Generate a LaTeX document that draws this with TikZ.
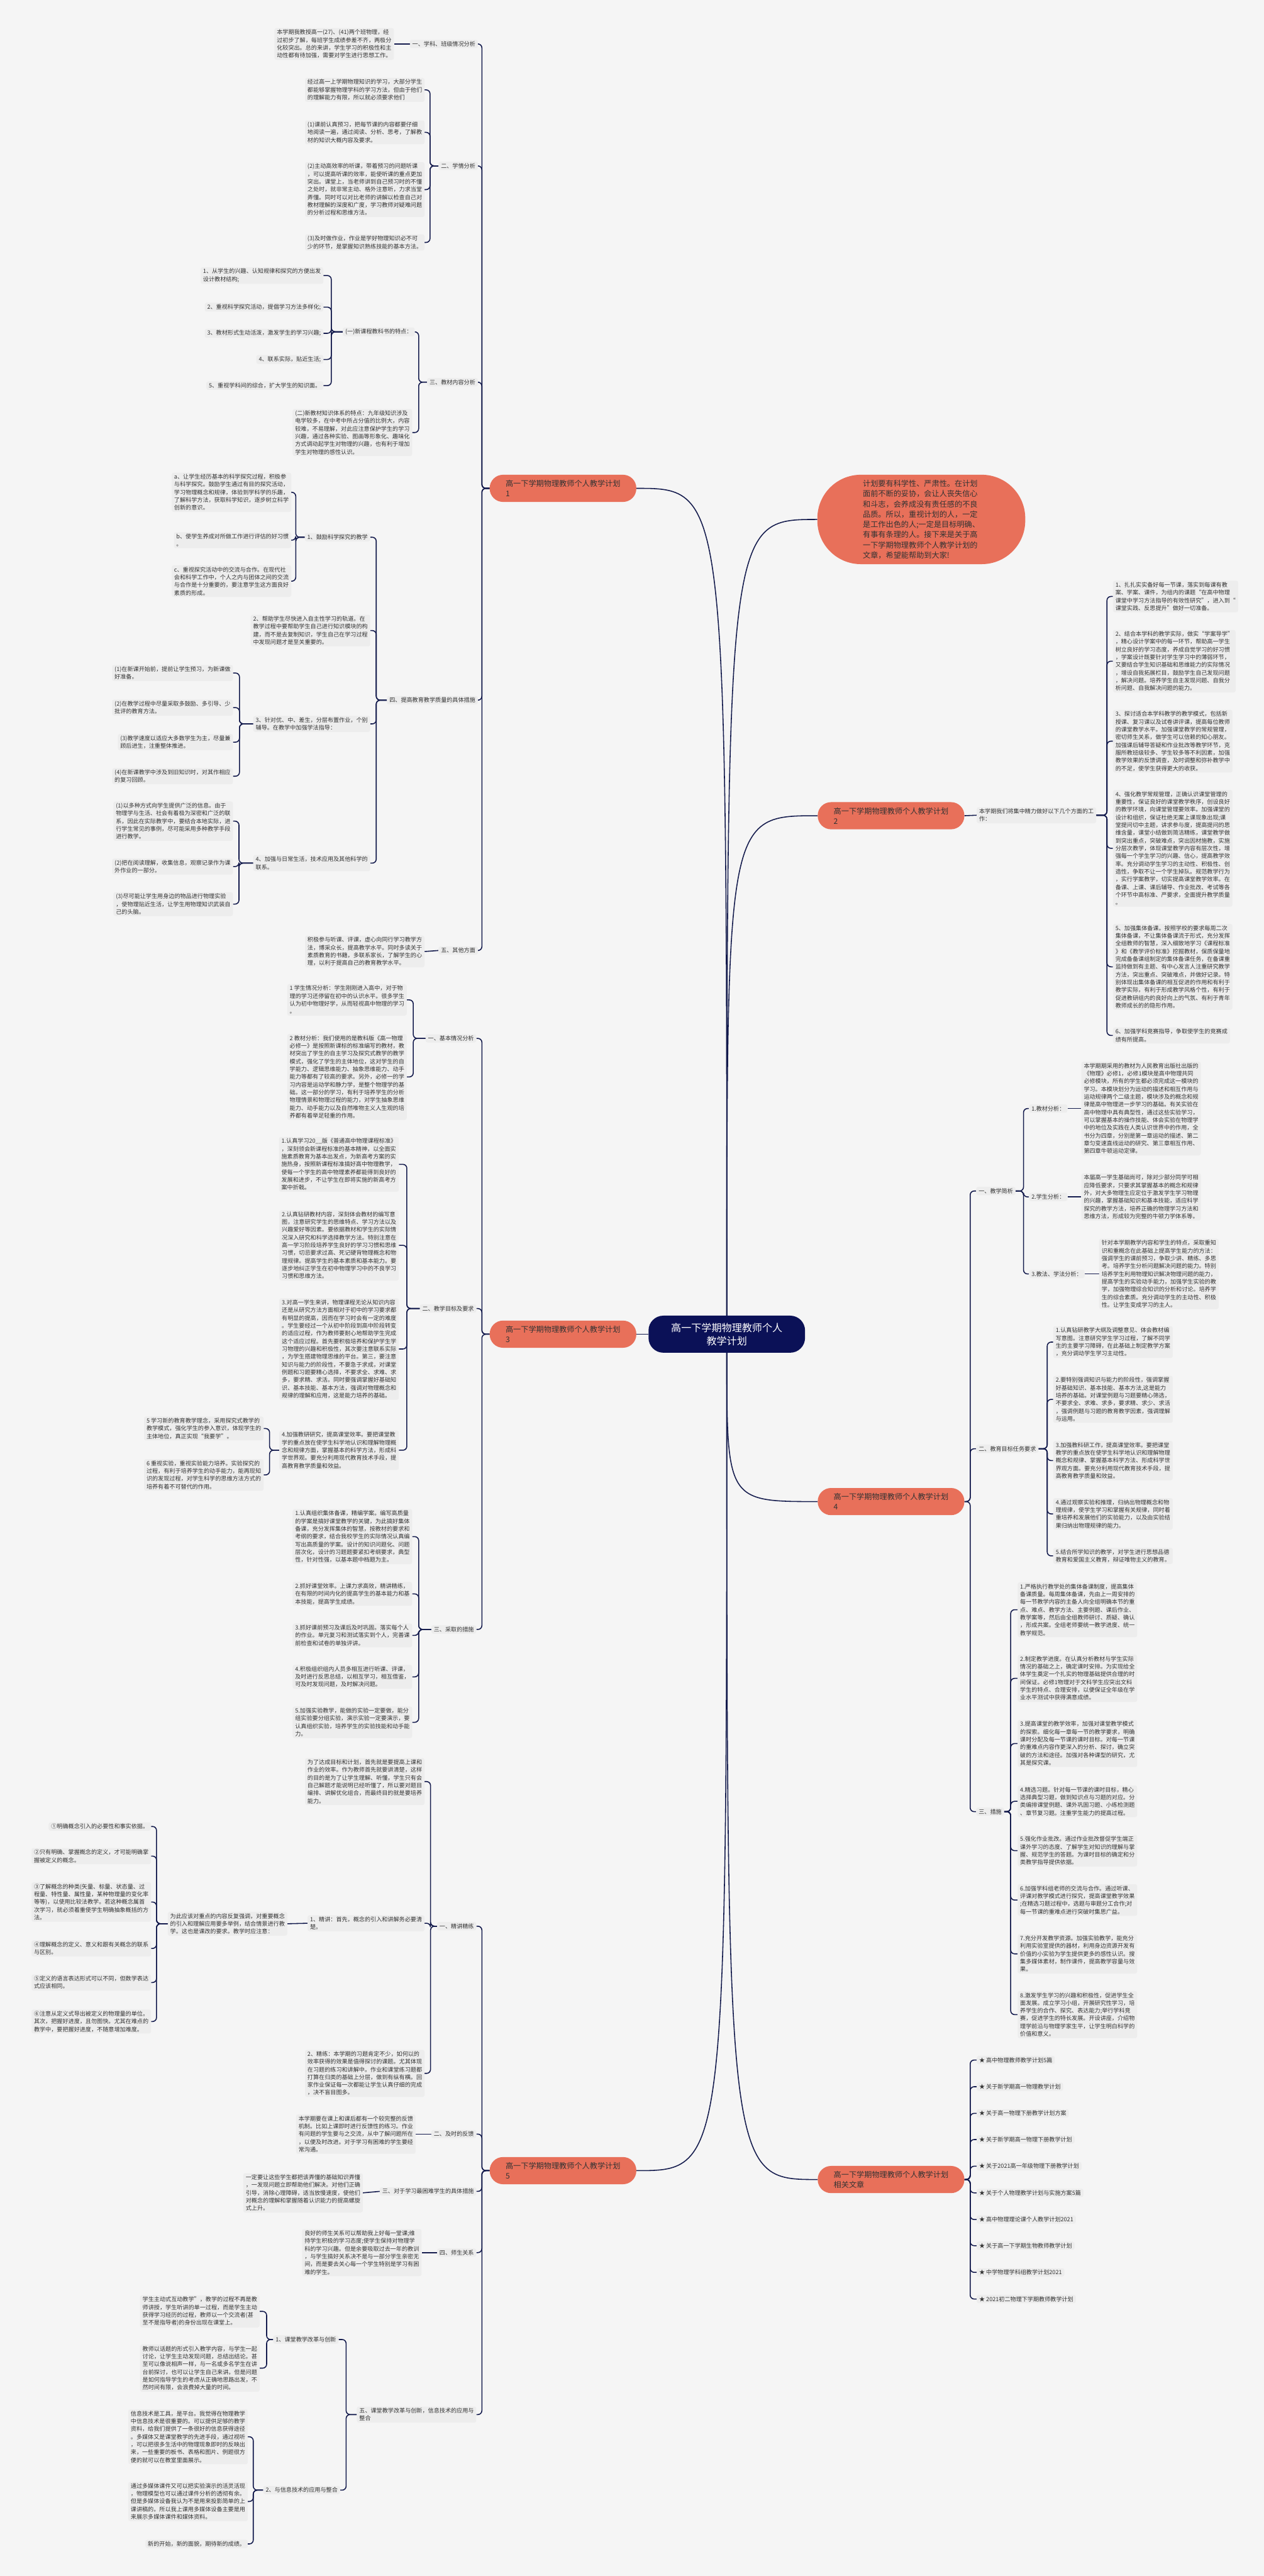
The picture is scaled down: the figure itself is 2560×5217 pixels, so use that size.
\documentclass[tikz,border=0pt]{standalone}
\usepackage{fontspec}
\setmainfont{Noto Sans CJK SC}
\usetikzlibrary{backgrounds}
\definecolor{bgc}{HTML}{F5F5F5}
\definecolor{leafbg}{HTML}{EDEDED}
\definecolor{txt}{HTML}{333333}
\definecolor{navy}{HTML}{0B1157}
\definecolor{lnk}{HTML}{141B4D}
\definecolor{coral}{HTML}{E8705A}
\newcommand\lf{\fontsize{11.6}{15.7}\selectfont}
\newcommand\brf{\fontsize{15.5}{20.5}\selectfont}
\tikzset{
 leaf/.style={fill=leafbg, rounded corners=4pt, inner xsep=5pt, inner ysep=3pt, align=left, font=\lf, text=txt},
 lleaf/.style={leaf, anchor=east},
 rleaf/.style={leaf, anchor=west},
 branch/.style={fill=coral, rounded corners=27pt, minimum width=297pt, minimum height=55pt, align=left, font=\brf, text=txt, inner xsep=14pt},
 conn/.style={draw=lnk, line width=2pt, rounded corners=8pt},
 curv/.style={draw=lnk, line width=2pt},
}
\newcommand\Lc[4]{\draw[conn] (#1.west) -- (#3,#4) |- (#2.east);}
\newcommand\Rc[4]{\draw[conn] (#1.east) -- (#3,#4) |- (#2.west);}
\newcommand\Sl[2]{\draw[conn] (#1.west) -- (#2.east);}
\newcommand\Sr[2]{\draw[conn] (#1.east) -- (#2.west);}
\begin{document}
\begin{tikzpicture}[x=1pt,y=-1pt]
\useasboundingbox (0,0) rectangle (2560,5217);
% ---------- root
\node[fill=navy, text=white, rounded corners=30pt, minimum width=317pt, minimum height=75pt, align=center, font=\fontsize{20.5}{27}\selectfont] (root) at (1472,2702) {高一下学期物理教师个人\\教学计划};
% ---------- right side
\node[fill=coral, rounded corners=88pt, minimum width=421pt, minimum height=181pt, align=left, font=\fontsize{15.5}{20.7}\selectfont, text=txt] (intro) at (1866,1052) {计划要有科学性、严肃性。在计划\\面前不断的妥协，会让人丧失信心\\和斗志，会养成没有责任感的不良\\品质。所以，重视计划的人，一定\\是工作出色的人;一定是目标明确、\\有事有条理的人。接下来是关于高\\一下学期物理教师个人教学计划的\\文章，希望能帮助到大家!};

\node[branch, anchor=west] (R2) at (1656,1652) {高一下学期物理教师个人教学计划\\2};
\node[rleaf] (r2a) at (1978,1651) {本学期我们将集中精力做好以下几个方面的工\\作：};
\node[rleaf] (r2a1) at (2254,1208) {1、扎扎实实备好每一节课，落实到每课有教\\案、学案、课件，为组内的课题“在高中物理\\课堂中学习方法指导的有效性研究”，进入到“\\课堂实践、反思提升”做好一切准备。};
\node[rleaf] (r2a2) at (2254,1339) {2、结合本学科的教学实际，做实“学案导学”\\，精心设计学案中的每一环节，帮助高一学生\\树立良好的学习态度，养成自觉学习的好习惯\\，学案设计既要针对学生学习中的薄弱环节，\\又要结合学生知识基础和思维能力的实际情况\\，增设自我拓展栏目，鼓励学生自己发现问题\\，解决问题。培养学生自主发现问题、自我分\\析问题、自我解决问题的能力。};
\node[rleaf] (r2a3) at (2254,1501) {3、探讨适合本学科教学的教学模式，包括新\\授课、复习课以及试卷讲评课，提高每位教师\\的课堂教学水平。加强课堂教学的常规管理，\\密切师生关系，做学生可以信赖的知心朋友。\\加强课后辅导答疑和作业批改等教学环节，克\\服所教班级较多、学生较多等不利因素，加强\\教学效果的反馈调查，及时调整和弥补教学中\\的不足，使学生获得更大的收获。};
\node[rleaf] (r2a4) at (2254,1718) {4、强化教学常规管理，正确认识课堂管理的\\重要性，保证良好的课堂教学秩序，创设良好\\的教学环境，向课堂管理要效率。加强课堂的\\设计和组织，保证杜绝无案上课现象出现;课\\堂提问切中主题，讲求参与度，提高提问的思\\维含量，课堂小结做到简洁精练，课堂教学做\\到突出重点，突破难点，突出因材施教，实施\\分层次教学，体现课堂教学内容有层次性，增\\强每一个学生学习的兴趣、信心，提高教学效\\率。充分调动学生学习的主动性、积极性、创\\造性，争取不让一个学生掉队。规范教学行为\\，实行学案教学，切实提高课堂教学效率。在\\备课、上课、课后辅导、作业批改、考试等各\\个环节中高标准、严要求，全面提升教学质量\\。};
\node[rleaf] (r2a5) at (2254,1958) {5、加强集体备课。按照学校的要求每周二次\\集体备课，不让集体备课流于形式，充分发挥\\全组教师的智慧，深入细致地学习《课程标准\\》和《教学评价标准》挖掘教材，保质保量地\\完成备备课组制定的集体备课任务，在备课重\\监持做到有主题、有中心发言人注重研究教学\\方法，突出重点、突破难点，并做好记录。特\\别体现出集体备课的相互促进的作用和有利于\\教学实际，有利于形成教学风格个性，有利于\\促进教研组内的良好向上的气氛、有利于青年\\教师成长的的隐形作用。};
\node[rleaf] (r2a6) at (2254,2097) {6、加强学科竞赛指导，争取使学生的竞赛成\\绩有所提高。};

\node[branch, anchor=west] (R3) at (1656,3041) {高一下学期物理教师个人教学计划\\4};
\node[rleaf] (r3a) at (1977,2412) {一、教学简析};
\node[rleaf] (r3a1) at (2084,2245) {1.教材分析：};
\node[rleaf] (r3a1x) at (2190,2245) {本学期期采用的教材为人民教育出版社出版的\\《物理》必修1，必修1模块是高中物理共同\\必修模块，所有的学生都必须完成这一模块的\\学习。本模块划分为运动的描述和相互作用与\\运动规律两个二级主题，模块涉及的概念和规\\律是高中物理进一步学习的基础。有关实验在\\高中物理中具有典型性，通过这些实验学习，\\可以掌握基本的操作技能、体会实验在物理学\\中的地位及实践在人类认识世界中的作用，全\\书分为四章，分别是第一章运动的描述、第二\\章匀变速直线运动的研究、第三章相互作用、\\第四章牛顿运动定律。};
\node[rleaf] (r3a2) at (2084,2424) {2.学生分析：};
\node[rleaf] (r3a2x) at (2190,2424) {本届高一学生基础尚可，除对少部分同学可相\\应降低要求，只要求其掌握基本的概念和规律\\外，对大多物理生应定位于激发学生学习物理\\的兴趣，掌握基础知识和基本技能，适应科学\\探究的教学方法，培养正确的物理学习方法和\\思维方法，形成较为完整的牛顿力学体系等。};
\node[rleaf] (r3a3) at (2084,2580) {3.教法、学法分析：};
\node[rleaf] (r3a3x) at (2226,2580) {针对本学期教学内容和学生的特点，采取重知\\识和重概念在此基础上提高学生能力的方法：\\强调学生的课前预习，争取少讲、精练、多思\\考。培养学生分析问题解决问题的能力。特别\\培养学生利用物理知识解决物理问题的能力，\\提高学生的实验动手能力，加强学生实验的教\\学，加强物理综合知识的分析和讨论。培养学\\生的综合素质。充分调动学生的主动性、积极\\性。让学生变成学习的主人。};
\node[rleaf] (r3b) at (1977,2934) {二、教育目标任务要求};
\node[rleaf] (r3b1) at (2133,2718) {1.认真钻研教学大纲及调整意见、体会教材编\\写意图。注意研究学生学习过程，了解不同学\\生的主要学习障碍，在此基础上制定教学方案\\，充分调动学生学习主动性。};
\node[rleaf] (r3b2) at (2133,2834) {2.要特别强调知识与能力的阶段性，强调掌握\\好基础知识、基本技能、基本方法,这是能力\\培养的基础。对课堂例题与习题要精心筛选，\\不要求全、求难、求多，要求精、求少、求活\\，强调例题与习题的教育教学因素，强调理解\\与运用。};
\node[rleaf] (r3b3) at (2133,2958) {3.加强教科研工作，提高课堂效率。要把课堂\\教学的重点放在使学生科学地认识和理解物理\\概念和规律、掌握基本科学方法、形成科学世\\界观方面。要充分利用现代教育技术手段，提\\高教育教学质量和效益。};
\node[rleaf] (r3b4) at (2133,3066) {4.通过观察实验和推理，归纳出物理概念和物\\理规律，使学生学习和掌握有关规律，同时着\\重培养和发展他们的实验能力，以及由实验结\\果归纳出物理规律的能力。};
\node[rleaf] (r3b5) at (2133,3151) {5.结合所学知识的教学，对学生进行思想品德\\教育和爱国主义教育，辩证唯物主义的教育。};
\node[rleaf] (r3c) at (1977,3669) {三、措施};
\node[rleaf] (r3c1) at (2061,3260) {1.严格执行教学处的集体备课制度，提高集体\\备课质量。每周集体备课，先由上一周安排的\\每一节教学内容的主备人向全组明确本节的重\\点、难点、教学方法、主要例题、课后作业、\\教学案等，然后由全组教师研讨、质疑、确认\\，形成共案。全组老师要统一教学进度、统一\\教学规范。};
\node[rleaf] (r3c2) at (2061,3399) {2.制定教学进度。在认真分析教材与学生实际\\情况的基础之上，确定课时安排。为实现给全\\体学生奠定一个扎实的物理基础提供合理的时\\间保证。必修1物理对于文科学生应突出文科\\学生的特点、合理安排，以便保证全年级在学\\业水平测试中获得满意成绩。};
\node[rleaf] (r3c3) at (2061,3531) {3.提高课堂的教学效率，加强对课堂教学模式\\的探索。细化每一章每一节的教学要求，明确\\课时分配及每一节课的课时目标。对每一节课\\的重难点内容作更深入的分析、探讨，确立突\\破的方法和途径。加强对各种课型的研究，尤\\其是探究课。};
\node[rleaf] (r3c4) at (2061,3648) {4.精选习题。针对每一节课的课时目标，精心\\选择典型习题，做到知识点与习题的对应。分\\类编排课堂例题、课外巩固习题、小练检测题\\、章节复习题。注重学生能力的提高过程。};
\node[rleaf] (r3c5) at (2061,3748) {5.强化作业批改。通过作业批改督促学生端正\\课外学习的态度、了解学生对知识的理解与掌\\握、规范学生的答题。为课时目标的确定和分\\类教学指导提供依据。};
\node[rleaf] (r3c6) at (2061,3848) {6.加强学科组老师的交流与合作。通过听课、\\评课对教学模式进行探究，提高课堂教学效果\\;在精选习题过程中，选题与审题分工合作;对\\每一节课的重难点进行突破时集思广益。};
\node[rleaf] (r3c7) at (2061,3957) {7.充分开发教学资源。加强实验教学，能充分\\利用实验室提供的器材，利用身边资源开发有\\价值的小实验为学生提供更多的感性认识。搜\\集多媒体素材，制作课件，提高教学容量与效\\果。};
\node[rleaf] (r3c8) at (2061,4080) {8.激发学生学习的兴趣和积极性，促进学生全\\面发展。成立学习小组，开展研究性学习，培\\养学生的合作、探究、表达能力;举行学科竞\\赛，促进学生的特长发展。开设讲座，介绍物\\理学前沿与物理学家生平，让学生明白科学的\\价值和意义。};

\node[branch, anchor=west] (R4) at (1656,4414) {高一下学期物理教师个人教学计划\\相关文章};
\node[rleaf] (k1) at (1978,4172) {★ 高中物理教师教学计划5篇};
\node[rleaf] (k2) at (1978,4226) {★ 关于新学期高一物理教学计划};
\node[rleaf] (k3) at (1978,4280) {★ 关于高一物理下册教学计划方案};
\node[rleaf] (k4) at (1978,4333) {★ 关于新学期高一物理下册教学计划};
\node[rleaf] (k5) at (1978,4387) {★ 关于2021高一年级物理下册教学计划};
\node[rleaf] (k6) at (1978,4441) {★ 关于个人物理教学计划与实施方案5篇};
\node[rleaf] (k7) at (1978,4495) {★ 高中物理理论课个人教学计划2021};
\node[rleaf] (k8) at (1978,4548) {★ 关于高一下学期生物教师教学计划};
\node[rleaf] (k9) at (1978,4602) {★ 中学物理学科组教学计划2021};
\node[rleaf] (k10) at (1978,4656) {★ 2021初二物理下学期教师教学计划};

% ---------- left A
\node[branch, anchor=east] (A) at (1289,989) {高一下学期物理教师个人教学计划\\1};
\node[lleaf] (a1) at (968,89) {一、学科、班级情况分析};
\node[lleaf] (a1x) at (798,89) {本学期我教授高一(27)、(41)两个班物理，经\\过初步了解，每班学生成绩参差不齐，两极分\\化较突出。总的来讲，学生学习的积极性和主\\动性都有待加强，需要对学生进行思想工作。};
\node[lleaf] (a2) at (968,336) {二、学情分析};
\node[lleaf] (a2x1) at (860,182) {经过高一上学期物理知识的学习，大部分学生\\都能够掌握物理学科的学习方法，但由于他们\\的理解能力有限，所以就必须要求他们};
\node[lleaf] (a2x2) at (860,268) {(1)课前认真预习，把每节课的内容都要仔细\\地阅读一遍，通过阅读、分析、思考，了解教\\材的知识大概内容及要求。};
\node[lleaf] (a2x3) at (860,384) {(2)主动高效率的听课，带着预习的问题听课\\，可以提高听课的效率，能使听课的重点更加\\突出。课堂上，当老师讲到自己预习时的不懂\\之处时，就非常主动、格外注意听，力求当堂\\弄懂。同时可以对比老师的讲解以检查自己对\\教材理解的深度和广度，学习教师对疑难问题\\的分析过程和思维方法。};
\node[lleaf] (a2x4) at (860,491) {(3)及时做作业，作业是学好物理知识必不可\\少的环节，是掌握知识熟练技能的基本方法。};
\node[lleaf] (a3) at (968,774) {三、教材内容分析};
\node[lleaf] (a3a) at (840,672) {(一)新课程教科书的特点：};
\node[lleaf] (a3a1) at (655,558) {1、从学生的兴趣、认知规律和探究的方便出发\\设计教材结构;};
\node[lleaf] (a3a2) at (655,622) {2、重视科学探究活动，提倡学习方法多样化;};
\node[lleaf] (a3a3) at (655,675) {3、教材形式生动活泼，激发学生的学习兴趣;};
\node[lleaf] (a3a4) at (655,728) {4、联系实际，贴近生活;};
\node[lleaf] (a3a5) at (655,781) {5、重视学科间的综合，扩大学生的知识面。};
\node[lleaf] (a3b) at (835,876) {(二)新教材知识体系的特点：九年级知识涉及\\电学较多，在中考中所占分值的比例大，内容\\较难，不易理解，对此应注意保护学生的学习\\兴趣，通过各种实验、图画等形象化、趣味化\\方式调动起学生对物理的兴趣，也有利于增加\\学生对物理的感性认识。};
\node[lleaf] (a4) at (968,1418) {四、提高教育教学质量的具体措施};
\node[lleaf] (a4a) at (750,1088) {1、鼓励科学探究的教学};
\node[lleaf] (a4a1) at (590,997) {a、让学生经历基本的科学探究过程，积极参\\与科学探究。鼓励学生通过有目的探究活动，\\学习物理概念和规律，体验到学科学的乐趣，\\了解科学方法，获取科学知识，逐步树立科学\\创新的意识。};
\node[lleaf] (a4a2) at (590,1094) {b、使学生养成对所做工作进行评估的好习惯\\。};
\node[lleaf] (a4a3) at (590,1177) {c、重视探究活动中的交流与合作。在现代社\\会和科学工作中，个人之内与团体之间的交流\\与合作是十分重要的，要注意学生这方面良好\\素质的形成。};
\node[lleaf] (a4b) at (750,1277) {2、帮助学生尽快进入自主性学习的轨道。在\\教学过程中要帮助学生自己进行知识模块的构\\建，而不是去复制知识，学生自己在学习过程\\中发现问题才是至关重要的。};
\node[lleaf] (a4c) at (750,1466) {3、针对优、中、差生，分层布置作业，个别\\辅导。在教学中加强学法指导：};
\node[lleaf] (a4c1) at (472,1363) {(1)在新课开始前，提前让学生预习，为新课做\\好准备。};
\node[lleaf] (a4c2) at (472,1433) {(2)在教学过程中尽量采取多鼓励、多引导、少\\批评的教育方法。};
\node[lleaf] (a4c3) at (472,1503) {(3)教学速度以适应大多数学生为主，尽量兼\\顾后进生，注重整体推进。};
\node[lleaf] (a4c4) at (472,1572) {(4)在新课教学中涉及到旧知识时，对其作相应\\的复习回顾。};
\node[lleaf] (a4d) at (750,1748) {4、加强与日常生活，技术应用及其他科学的\\联系。};
\node[lleaf] (a4d1) at (472,1663) {(1)以多种方式向学生提供广泛的信息。由于\\物理学与生活、社会有着极为深密和广泛的联\\系，因此在实际教学中，要结合本地实际，进\\行学生常见的事例，尽可能采用多种教学手段\\进行教学。};
\node[lleaf] (a4d2) at (472,1755) {(2)把在阅读理解，收集信息，观察记录作为课\\外作业的一部分。};
\node[lleaf] (a4d3) at (472,1831) {(3)尽可能让学生用身边的物品进行物理实验\\，使物理贴近生活，让学生用物理知识武装自\\己的头脑。};
\node[lleaf] (a5) at (968,1925) {五、其他方面};
\node[lleaf] (a5x) at (860,1927) {积极参与听课、评课，虚心向同行学习教学方\\法，博采众长，提高教学水平。同时多读关于\\素质教育的书籍，多联系家长，了解学生的心\\理，以利于提高自己的教育教学水平。};

% ---------- left B
\node[branch, anchor=east] (B) at (1289,2702) {高一下学期物理教师个人教学计划\\3};
\node[lleaf] (b1) at (965,2103) {一、基本情况分析};
\node[lleaf] (b1x1) at (824,2025) {1 学生情况分析：学生刚刚进入高中，对于物\\理的学习还停留在初中的认识水平。很多学生\\认为初中物理好学，从而轻视高中物理的学习\\。};
\node[lleaf] (b1x2) at (824,2181) {2 教材分析：我们使用的是教科版《高一物理\\必修一》是按照新课标的标准编写的教材，教\\材突出了学生的自主学习及探究式教学的教学\\模式，强化了学生的主体地位，这对学生的自\\学能力、逻辑思维能力、抽象思维能力、动手\\能力等都有了较高的要求。另外，必修一的学\\习内容是运动学和静力学，是整个物理学的基\\础。这一部分的学习，有利于培养学生的分析\\物理情景和物理过程的能力，对学生抽象思维\\能力、动手能力以及自然唯物主义人生观的培\\养都有着举足轻重的作用。};
\node[lleaf] (b2) at (965,2650) {二、教学目标及要求};
\node[lleaf] (b2x1) at (808,2358) {1.认真学习20\_\_版《普通高中物理课程标准》\\，深刻领会新课程标准的基本精神，以全面实\\施素质教育为基本出发点，为新高考方案的实\\施热身，按照新课程标准搞好高中物理教学，\\使每一个学生的高中物理素养都能得到良好的\\发展和进步，不让学生在即将实施的新高考方\\案中折戟。};
\node[lleaf] (b2x2) at (808,2522) {2.认真钻研教材内容，深刻体会教材的编写意\\图，注意研究学生的思维特点、学习方法以及\\兴趣爱好等因素。要依据教材和学生的实际情\\况深入研究和科学选择教学方法。特别注意在\\高一学习阶段培养学生良好的学习习惯和思维\\习惯，切忌要求过高、死记硬背物理概念和物\\理规律。提高学生的基本素质和基本能力。要\\逐步地纠正学生在初中物理学习中的不良学习\\习惯和思维方法。};
\node[lleaf] (b2x3) at (808,2732) {3.对高一学生来讲，物理课程无论从知识内容\\还是从研究方法方面相对于初中的学习要求都\\有明显的提高，因而在学习时会有一定的难度\\。学生要经过一个从初中阶段到高中阶段转变\\的适应过程，作为教师要耐心地帮助学生完成\\这个适应过程。首先要积极培养和保护学生学\\习物理的兴趣和积极性，其次要注意联系实际\\，为学生搭建物理思维的平台。第三，要注意\\知识与能力的阶段性，不要急于求成，对课堂\\例题和习题要精心选择，不要求全、求难、求\\多，要求精、求活。同时要强调掌握好基础知\\识、基本技能、基本方法，强调对物理概念和\\规律的理解和应用，这是能力培养的基础。};
\node[lleaf] (b2x4) at (808,2937) {4.加强教研研究，提高课堂效率。要把课堂教\\学的重点放在使学生科学地认识和理解物理概\\念和规律方面，掌握基本的科学方法，形成科\\学世界观。要充分利用现代教育技术手段，提\\高教育教学质量和效益。};
\node[lleaf] (b2x5) at (534,2893) {5 学习新的教育教学理念，采用探究式教学的\\教学模式，强化学生的参入意识，体现学生的\\主体地位，真正实现“我要学”。};
\node[lleaf] (b2x6) at (534,2987) {6 重视实验，重视实验能力培养。实验探究的\\过程，有利于培养学生的动手能力，能再现知\\识的发现过程，对学生科学的思维方法方式的\\培养有着不可替代的作用。};
\node[lleaf] (b3) at (965,3300) {三、采取的措施};
\node[lleaf] (b3x1) at (835,3112) {1.认真组织集体备课，精编学案。编写高质量\\的学案是搞好课堂教学的关键，为此搞好集体\\备课，充分发挥集体的智慧，按教材的要求和\\考纲的要求，结合我校学生的实际情况认真编\\写出高质量的学案。设计的知识问题化、问题\\层次化，设计的习题题要紧扣考纲要求，典型\\性，针对性强，以基本题中档题为主。};
\node[lleaf] (b3x2) at (835,3228) {2.抓好课堂效率。上课力求高效，精讲精练，\\在有限的时间内化的提高学生的基本能力和基\\本技能，提高学生成绩。};
\node[lleaf] (b3x3) at (835,3312) {3.抓好课前预习及课后及时巩固。落实每个人\\的作业。单元复习和测试落实到个人，完善课\\前检查和试卷的单独评讲。};
\node[lleaf] (b3x4) at (835,3396) {4.积极组织组内人员多相互进行听课、评课，\\及时进行反思总结，以相互学习，相互借鉴，\\可及时发现问题，及时解决问题。};
\node[lleaf] (b3x5) at (835,3488) {5.加强实验教学，能做的实验一定要做，能分\\组实验要分组实验，演示实验一定要演示，要\\认真组织实验，培养学生的实验技能和动手能\\力。};

% ---------- left C
\node[branch, anchor=east] (C) at (1289,4396) {高一下学期物理教师个人教学计划\\5};
\node[lleaf] (c1) at (965,3901) {一、精讲精练};
\node[lleaf] (c1x1) at (860,3608) {为了达成目标和计划，首先就是要提高上课和\\作业的效率。作为教师首先就要讲清楚，这样\\的目的是为了让学生理解、听懂，学生只有会\\自己解题才能说明已经听懂了，所以要对题目\\编排、讲解优化组合，而最终目的就是要培养\\能力。};
\node[lleaf] (c1x2) at (860,3895) {1、精讲：首先，概念的引入和讲解务必要清\\楚。};
\node[lleaf] (c1x2a) at (582,3896) {为此应该对重点的内容反复强调，对重要概念\\的引入和理解应用要多举例，结合情景进行教\\学。这也是课改的要求。教学时应注意：};
\node[lleaf] (q1) at (306,3699) {①明确概念引入的必要性和事实依据。};
\node[lleaf] (q2) at (306,3759) {②只有明确、掌握概念的定义，才可能明确掌\\握被定义的概念。};
\node[lleaf] (q3) at (306,3852) {③了解概念的种类(矢量、标量、状态量、过\\程量、特性量、属性量，某种物理量的变化率\\等等)，以使用比较法教学。若这种概念属首\\次学习，就必须着重使学生明确抽象概括的方\\法。};
\node[lleaf] (q4) at (306,3946) {④理解概念的定义、意义和跟有关概念的联系\\与区别。};
\node[lleaf] (q5) at (306,4015) {⑤定义的语言表达形式可以不同，但数学表达\\式应该相同。};
\node[lleaf] (q6) at (306,4094) {⑥注意从定义式导出被定义的物理量的单位。\\其次，把握好进度，且勿图快。尤其在难点的\\教学中，要把握好进度，不随意增加难度。};
\node[lleaf] (c1x3) at (860,4199) {2、精练：本学期的习题肯定不少，如何以的\\效率获得的效果是值得探讨的课题。尤其体现\\在习题的练习和讲解中。作业和课堂练习题都\\打算在归类的基础上分层，做到有纵有横。回\\家作业保证每一次都能让学生认真仔细的完成\\，决不盲目图多。};
\node[lleaf] (c2) at (965,4322) {二、及时的反馈};
\node[lleaf] (c2x) at (842,4322) {本学期要在课上和课后都有一个较完整的反馈\\机制。比如上课即时进行反馈性的练习。作业\\有问题的学生要与之交流，从中了解问题所在\\，以便及时改进。对于学习有困难的学生要经\\常沟通。};
\node[lleaf] (c3) at (965,4438) {三、对于学习最困难学生的具体措施};
\node[lleaf] (c3x) at (735,4441) {一定要让这些学生都把该弄懂的基础知识弄懂\\，一发现问题立即帮助他们解决。对他们正确\\引导，消除心理障碍，适当放慢速度，使他们\\对概念的理解和掌握随着认识能力的提高螺旋\\式上升。};
\node[lleaf] (c4) at (965,4562) {四、师生关系};
\node[lleaf] (c4x) at (854,4562) {良好的师生关系可以帮助我上好每一堂课;维\\持学生积极的学习态度;使学生保持对物理学\\科的学习兴趣。但是余要吸取过去一年的教训\\，与学生搞好关系决不是与一部分学生亲密无\\间，而是要去关心每一个学生特别是学习有困\\难的学生。};
\node[lleaf] (c5) at (965,4890) {五、课堂教学改革与创新，信息技术的应用与\\整合};
\node[lleaf] (c5a) at (686,4738) {1、课堂教学改革与创新};
\node[lleaf] (c5a1) at (526,4681) {学生主动式互动教学”，教学的过程不再是教\\师讲授，学生听讲的单一过程，而是学生主动\\获得学习经历的过程，教师以一个交流者(甚\\至不是指导者)的身份出现在课堂上。};
\node[lleaf] (c5a2) at (526,4796) {教师以话题的形式引入教学内容，与学生一起\\讨论，让学生主动发现问题，总结出结论。甚\\至可以像说相声一样，与一名或多名学生在讲\\台前探讨，也可以让学生自己来讲。但是问题\\是如何指导学生的考虑从正确地思路出发，不\\然时间有限，会浪费掉大量的时间。};
\node[lleaf] (c5b) at (689,5043) {2、与信息技术的应用与整合};
\node[lleaf] (c5b1) at (502,4935) {信息技术是工具，是平台。我觉得在物理教学\\中信息技术是很重要的。可以提供足够的教学\\资料，给我们提供了一条很好的信息获得途径\\。多媒体又是课堂教学的先进手段，通过视听\\，可以把很多生活中的物理现象即时的反映出\\来，一些重要的板书、表格和图片、例题很方\\便的就可以在教室里面展示。};
\node[lleaf] (c5b2) at (502,5066) {通过多媒体课件又可以把实验演示的活灵活现\\，物理模型也可以通过课件分析的透彻有余。\\但是多媒体设备我认为不是用来投影简单的上\\课讲稿的。所以我上课用多媒体设备主要是用\\来展示多媒体课件和媒体资料。};
\node[lleaf] (c5b3) at (502,5152) {新的开始，新的面貌，期待新的成绩。};

% ---------- connectors
\begin{pgfonlayer}{background}
\fill[bgc] (0,0) rectangle (2560,5217);
\draw[curv] (root.north) .. controls (1472,1052) .. (intro.west);
\draw[curv] (root.north) .. controls (1472,1652) .. (R2.west);
\draw[curv] (root.north) .. controls (1472,989) .. (A.east);
\draw[curv] (root.west) -- (B.east);
\draw[curv] (root.south) .. controls (1472,3041) .. (R3.west);
\draw[curv] (root.south) .. controls (1472,4396) .. (C.east);
\draw[curv] (root.south) .. controls (1472,4414) .. (R4.west);
% R2
\Sr{R2}{r2a}
\foreach \n in {r2a1,r2a2,r2a3,r2a4,r2a5,r2a6} {\Rc{r2a}{\n}{2242}{1651}}
% R3
\foreach \n in {r3a,r3b,r3c} {\Rc{R3}{\n}{1965}{3041}}
\foreach \n in {r3a1,r3a2,r3a3} {\Rc{r3a}{\n}{2073}{2412}}
\Sr{r3a1}{r3a1x} \Sr{r3a2}{r3a2x} \Sr{r3a3}{r3a3x}
\foreach \n in {r3b1,r3b2,r3b3,r3b4,r3b5} {\Rc{r3b}{\n}{2121}{2934}}
\foreach \n in {r3c1,r3c2,r3c3,r3c4,r3c5,r3c6,r3c7,r3c8} {\Rc{r3c}{\n}{2047}{3669}}
% R4
\foreach \n in {k1,k2,k3,k4,k5,k6,k7,k8,k9,k10} {\Rc{R4}{\n}{1965}{4414}}
% A
\foreach \n in {a1,a2,a3,a4,a5} {\Lc{A}{\n}{976}{989}}
\Sl{a1}{a1x}
\foreach \n in {a2x1,a2x2,a2x3,a2x4} {\Lc{a2}{\n}{871}{336}}
\foreach \n in {a3a,a3b} {\Lc{a3}{\n}{848}{774}}
\foreach \n in {a3a1,a3a2,a3a3,a3a4,a3a5} {\Lc{a3a}{\n}{671}{672}}
\foreach \n in {a4a,a4b,a4c,a4d} {\Lc{a4}{\n}{762}{1418}}
\foreach \n in {a4a1,a4a2,a4a3} {\Lc{a4a}{\n}{599}{1088}}
\foreach \n in {a4c1,a4c2,a4c3,a4c4} {\Lc{a4c}{\n}{485}{1466}}
\foreach \n in {a4d1,a4d2,a4d3} {\Lc{a4d}{\n}{484}{1748}}
\Sl{a5}{a5x}
% B
\foreach \n in {b1,b2,b3} {\Lc{B}{\n}{976}{2702}}
\foreach \n in {b1x1,b1x2} {\Lc{b1}{\n}{837}{2103}}
\foreach \n in {b2x1,b2x2,b2x3,b2x4} {\Lc{b2}{\n}{824}{2650}}
\foreach \n in {b2x5,b2x6} {\Lc{b2x4}{\n}{546}{2937}}
\foreach \n in {b3x1,b3x2,b3x3,b3x4,b3x5} {\Lc{b3}{\n}{848}{3300}}
% C
\foreach \n in {c1,c2,c3,c4,c5} {\Lc{C}{\n}{976}{4396}}
\foreach \n in {c1x1,c1x2,c1x3} {\Lc{c1}{\n}{872}{3901}}
\Sl{c1x2}{c1x2a}
\foreach \n in {q1,q2,q3,q4,q5,q6} {\Lc{c1x2a}{\n}{317}{3896}}
\Sl{c2}{c2x} \Sl{c3}{c3x} \Sl{c4}{c4x}
\foreach \n in {c5a,c5b} {\Lc{c5}{\n}{701}{4890}}
\foreach \n in {c5a1,c5a2} {\Lc{c5a}{\n}{540}{4738}}
\foreach \n in {c5b1,c5b2,c5b3} {\Lc{c5b}{\n}{513}{5043}}
\end{pgfonlayer}
\end{tikzpicture}
\end{document}
